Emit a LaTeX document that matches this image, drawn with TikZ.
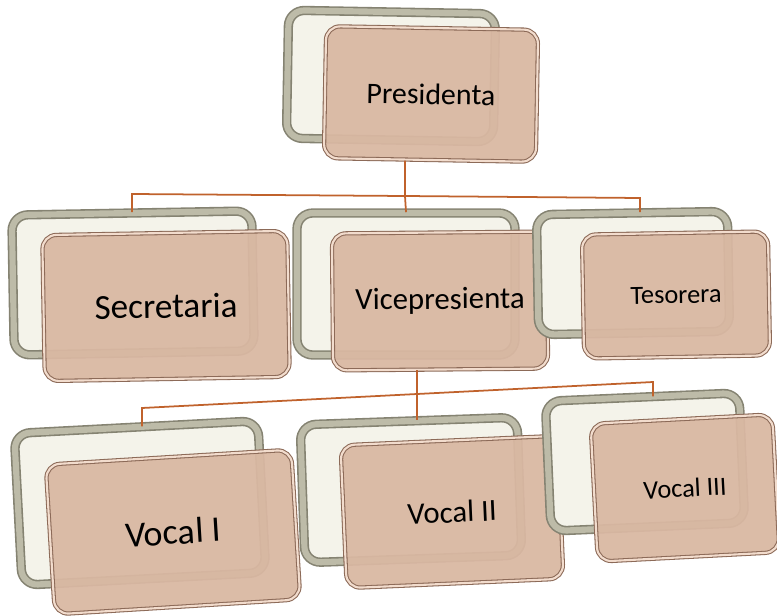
\documentclass[tikz,border=0pt]{standalone}
\usepackage{fontspec}
\setmainfont{Carlito}
\definecolor{backrim}{HTML}{858372}
\definecolor{backlight}{HTML}{BDBBA8}
\definecolor{backfill}{HTML}{F4F3EA}
\definecolor{frontrim}{HTML}{8C6A58}
\definecolor{frontlight}{HTML}{F2DCCD}
\definecolor{frontfill}{HTML}{D9B8A2}
\definecolor{linkcolor}{HTML}{C0622C}
\begin{document}
\begin{tikzpicture}[x=0.02cm, y=-0.02cm,
        boxsize/.style 2 args={minimum width=#1*0.02cm, minimum height=#2*0.02cm},
        backbox/.style={draw=backrim, line width=0.9pt, double=backlight, double distance=3.5pt,
            fill=backfill, rounded corners=9pt, inner sep=0pt},
        frontbox/.style={draw=frontrim, line width=0.6pt, double=frontlight, double distance=1.2pt,
            fill=frontfill, fill opacity=0.94, text opacity=1, rounded corners=8pt, inner sep=0pt},
        link/.style={draw=linkcolor, line width=1pt}]
        \useasboundingbox (0,0) rectangle (777,615);
        % Top level
        \node[backbox, boxsize={207}{128}, rotate=-1] (presB) at (391,76) {};
        \node[frontbox, boxsize={212}{132}, rotate=-1, font=\fontsize{17}{20}\selectfont] (presF) at (431,94) {Presidenta};
        % Second level
        \node[backbox, boxsize={240}{140}, rotate=1] (secB) at (133,283) {};
        \node[frontbox, boxsize={245}{146}, rotate=1, font=\fontsize{20}{24}\selectfont] (secF) at (166,306) {Secretaria};
        \node[backbox, boxsize={218}{142}] (vpB) at (406,284) {};
        \node[frontbox, boxsize={215}{137}, rotate=0.5, font=\fontsize{17.5}{21}\selectfont] (vpF) at (440,301) {Vicepresienta};
        \node[backbox, boxsize={191}{120}, rotate=1] (tesB) at (633,273) {};
        \node[frontbox, boxsize={186}{124}, rotate=1, font=\fontsize{15}{18}\selectfont] (tesF) at (676,295) {Tesorera};
        % Third level
        \node[backbox, boxsize={244}{152}, rotate=3] (vocIB) at (140,503) {};
        \node[frontbox, boxsize={246}{150}, rotate=3.5, font=\fontsize{20.5}{24}\selectfont] (vocIF) at (173,532) {Vocal I};
        \node[backbox, boxsize={217}{138}, rotate=2] (vocIIB) at (411,490) {};
        \node[frontbox, boxsize={217}{143}, rotate=2.5, font=\fontsize{17.5}{21}\selectfont] (vocIIF) at (452,512) {Vocal II};
        \node[backbox, boxsize={194}{130}, rotate=2.5] (vocIIIB) at (645,462) {};
        \node[frontbox, boxsize={182}{138}, rotate=3, font=\fontsize{15}{18}\selectfont] (vocIIIF) at (685,488) {Vocal III};
        % Connectors
        \coordinate (t1) at (132,194);
        \coordinate (t2) at (405,196);
        \coordinate (t3) at (640,198);
        \draw[link] (t2 |- presF.south) -- (t2) -- (vpB.north);
        \draw[link] (t1 |- secB.north) -- (t1) -- (t2) -- (t3) -- (t3 |- tesB.north);
        \coordinate (b1) at (142,408);
        \coordinate (b2) at (417,394);
        \coordinate (b3) at (653,382);
        \draw[link] (b2 |- vpF.south) -- (b2) -- (b2 |- vocIIB.north);
        \draw[link] (b1 |- vocIB.north) -- (b1) -- (b2) -- (b3) -- (b3 |- vocIIIB.north);
    \end{tikzpicture}
\end{document}
